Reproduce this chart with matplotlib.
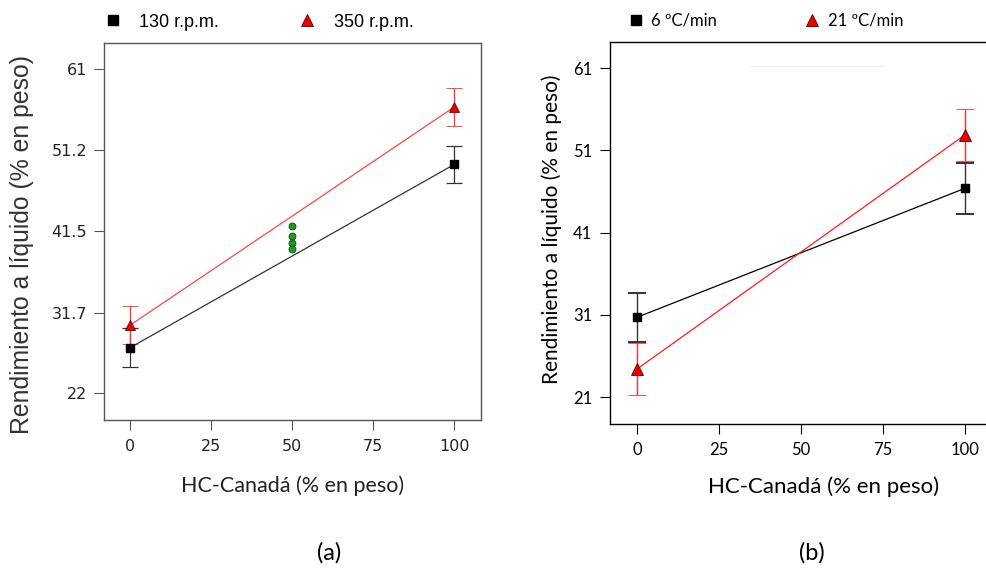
import matplotlib
matplotlib.use('Agg')
import matplotlib.pyplot as plt
from matplotlib.lines import Line2D

# ---- data (a): agitation speed
x_levels = [0, 100]
rpm130 = [27.5, 49.5]
rpm130_err = [2.3, 2.2]
rpm350 = [30.2, 56.4]
rpm350_err = [2.3, 2.25]
center_x = [50, 50, 50, 50]
center_y = [42.1, 40.9, 40.1, 39.4]
yticks_a = [22, 31.7, 41.5, 51.2, 61]
ytick_labels_a = ['22', '31.7', '41.5', '51.2', '61']

# ---- data (b): heating rate
rate6 = [30.7, 46.4]
rate6_err = [3.0, 3.1]
rate21 = [24.4, 52.9]
rate21_err = [3.15, 3.15]
yticks_b = [21, 31, 41, 51, 61]

xticks = [0, 25, 50, 75, 100]
ylabel = 'Rendimiento a líquido (% en peso)'
xlabel = 'HC-Canadá (% en peso)'

fig = plt.figure(figsize=(9.87, 5.70), dpi=100)

# ================= panel (a) =================
ax1 = fig.add_axes([0.1054, 0.2632, 0.3820, 0.6614])
ax1.errorbar(x_levels, rpm130, yerr=rpm130_err, color='#333333', lw=0.9,
             marker='s', ms=5.5, mfc='black', mec='black',
             capsize=6, elinewidth=0.9, capthick=0.9)
ax1.errorbar(x_levels, rpm350, yerr=rpm350_err, color='#ff4444', lw=0.9,
             marker='^', ms=7.5, mfc='#ee0000', mec='#660000', mew=0.6,
             ecolor='#ff3333', capsize=6, elinewidth=0.9, capthick=0.9)
ax1.plot(center_x, center_y, 'o', ms=5, mfc='#1f9a1f', mec='#0a4a0a', mew=0.6)
ax1.set_xlim(-8.1, 108.3)
ax1.set_ylim(18.8, 64.1)
ax1.set_xticks(xticks)
ax1.set_yticks(yticks_a)
ax1.set_yticklabels(ytick_labels_a)
ax1.tick_params(direction='out', length=7, width=0.8, color='#555555',
                labelsize=11.5, labelcolor='#222222', pad=5)
ax1.tick_params(axis='x', pad=7)
for s in ax1.spines.values():
    s.set_color('#555555')
    s.set_linewidth(1.0)
ax1.set_ylabel(ylabel, family='Liberation Sans', fontsize=17.8, color='#333333')
ax1.yaxis.set_label_coords(-0.186, 0.466)
ax1.set_xlabel(xlabel, family='Lato', fontsize=15.5, color='#222222',
               labelpad=15)
h1 = [Line2D([], [], ls='', marker='s', ms=7, mfc='black', mec='black'),
      Line2D([], [], ls='', marker='^', ms=9, mfc='#ee0000', mec='#660000', mew=0.6)]
ax1.legend(h1, ['130 r.p.m.', '350 r.p.m.'], ncol=2, frameon=False,
           loc='center left', bbox_to_anchor=(0.0, 1.055),
           prop={'family': 'Liberation Sans', 'size': 13},
           handlelength=1.0, handletextpad=0.95, columnspacing=4.4,
           borderpad=0, borderaxespad=0)

# ================= panel (b) =================
ax2 = fig.add_axes([0.6183, 0.2556, 0.3817, 0.6712])
ax2.errorbar(x_levels, rate6, yerr=rate6_err, color='black', lw=0.9,
             marker='s', ms=6, mfc='black', mec='black',
             ecolor='#333333', capsize=6.5, elinewidth=1.0, capthick=1.4)
ax2.errorbar(x_levels, rate21, yerr=rate21_err, color='#ff1a1a', lw=0.9,
             marker='^', ms=8, mfc='#ee0000', mec='#550000', mew=0.6,
             ecolor='#ff3333', capsize=6.5, elinewidth=1.0, capthick=1.4)
ax2.hlines(61.2, 34.4, 75, color='#eeeeee', lw=0.8)
ax2.set_xlim(-8.1, 106.6)
ax2.set_ylim(17.7, 64.2)
ax2.set_xticks(xticks)
ax2.set_yticks(yticks_b)
ax2.tick_params(direction='out', length=7, width=0.8, labelsize=12, pad=6)
for lab in ax2.get_xticklabels() + ax2.get_yticklabels():
    lab.set_family('Lato')
for s in ax2.spines.values():
    s.set_color('black')
    s.set_linewidth(1.0)
ax2.set_ylabel(ylabel, family='Lato', fontsize=15)
ax2.yaxis.set_label_coords(-0.128, 0.51)
ax2.set_xlabel(xlabel, family='Lato', fontsize=16)
ax2.xaxis.set_label_coords(0.565, -0.135)
h2 = [Line2D([], [], ls='', marker='s', ms=7, mfc='black', mec='black'),
      Line2D([], [], ls='', marker='^', ms=9, mfc='#ee0000', mec='#550000', mew=0.6)]
ax2.legend(h2, ['6 ºC/min', '21 ºC/min'], ncol=2, frameon=False,
           loc='center left', bbox_to_anchor=(0.045, 1.055),
           prop={'family': 'Lato', 'size': 12},
           handlelength=1.0, handletextpad=0.45, columnspacing=5.2,
           borderpad=0, borderaxespad=0)

# captions
fig.text(329 / 987, 1 - 553 / 570, '(a)', family='Lato', fontsize=17,
         ha='center', va='center')
fig.text(812 / 987, 1 - 553 / 570, '(b)', family='Lato', fontsize=17,
         ha='center', va='center')

fig.savefig('out.png', dpi=100)
